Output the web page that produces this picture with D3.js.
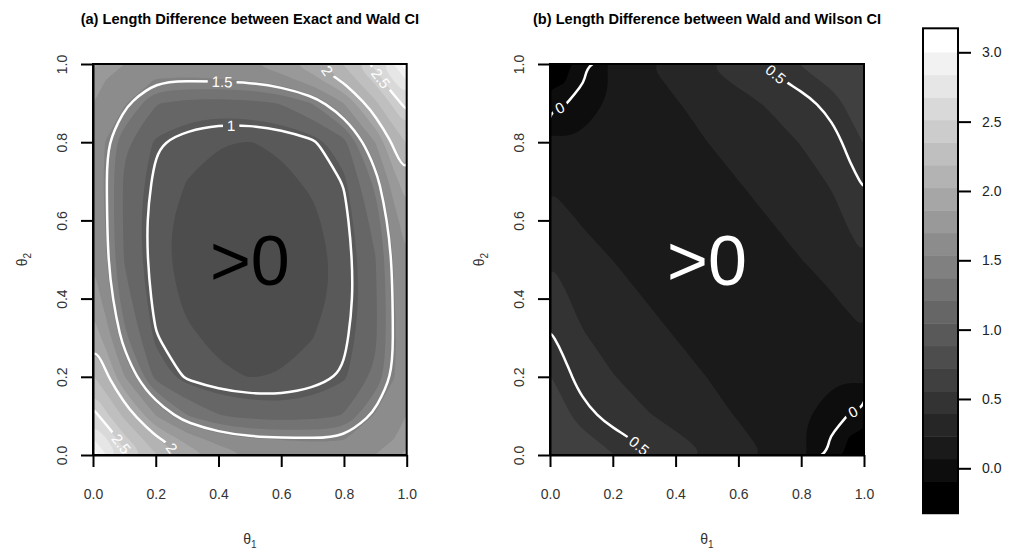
<!DOCTYPE html>
<html>
<head>
<meta charset="utf-8">
<script src="https://cdn.jsdelivr.net/npm/d3@7"></script>
<style>
body { margin: 0; background: #fff; }
text { font-family: "Liberation Sans", Arial, sans-serif; }
</style>
</head>
<body>
<svg width="1012" height="552"></svg>
<script>
// theta positions of the grid samples (same for theta1 and theta2)
const thetaGrid = [0, 0.04, 0.1, 0.2, 0.3, 0.4, 0.5, 0.6, 0.7, 0.8, 0.9, 0.96, 1];

// (a) exact - wald, one row per theta2 (0 -> 1), columns theta1 (0 -> 1)
const exactWald = [
  [3.17, 2.85, 2.58, 2.2, 1.96, 1.8, 1.69, 1.63, 1.6, 1.62, 1.7, 1.8, 1.92],
  [2.85, 2.7, 2.4, 2.05, 1.8, 1.63, 1.55, 1.53, 1.52, 1.53, 1.62, 1.7, 1.8],
  [2.58, 2.4, 2.15, 1.7, 1.38, 1.22, 1.16, 1.14, 1.15, 1.22, 1.56, 1.62, 1.7],
  [2.2, 2.05, 1.7, 1.15, 0.97, 0.9, 0.88, 0.89, 0.94, 1.02, 1.25, 1.53, 1.62],
  [1.96, 1.8, 1.42, 1.01, 0.9, 0.86, 0.83, 0.84, 0.88, 0.97, 1.18, 1.52, 1.6],
  [1.8, 1.63, 1.28, 0.95, 0.86, 0.8, 0.78, 0.79, 0.84, 0.93, 1.18, 1.53, 1.63],
  [1.69, 1.55, 1.2, 0.93, 0.83, 0.78, 0.77, 0.78, 0.83, 0.93, 1.2, 1.55, 1.69],
  [1.63, 1.53, 1.18, 0.93, 0.84, 0.79, 0.78, 0.8, 0.86, 0.95, 1.28, 1.63, 1.8],
  [1.6, 1.52, 1.18, 0.97, 0.88, 0.84, 0.83, 0.86, 0.9, 1.01, 1.42, 1.8, 1.96],
  [1.62, 1.53, 1.25, 1.02, 0.94, 0.89, 0.88, 0.9, 0.97, 1.15, 1.7, 2.05, 2.2],
  [1.7, 1.62, 1.56, 1.22, 1.15, 1.14, 1.16, 1.22, 1.38, 1.7, 2.15, 2.4, 2.58],
  [1.8, 1.7, 1.62, 1.53, 1.52, 1.53, 1.55, 1.63, 1.8, 2.05, 2.4, 2.7, 2.85],
  [1.92, 1.8, 1.7, 1.62, 1.6, 1.63, 1.69, 1.8, 1.96, 2.2, 2.58, 2.85, 3.17]
];

// (b) wald - wilson, same layout
const waldWilson = [
  [0.66, 0.64, 0.61, 0.56, 0.51, 0.45, 0.39, 0.31, 0.21, 0.09, -0.02, -0.15, -0.32],
  [0.64, 0.62, 0.58, 0.53, 0.48, 0.42, 0.35, 0.27, 0.18, 0.08, -0.01, -0.12, -0.15],
  [0.61, 0.58, 0.53, 0.47, 0.41, 0.35, 0.29, 0.22, 0.15, 0.08, 0.03, -0.01, -0.02],
  [0.56, 0.53, 0.47, 0.4, 0.34, 0.28, 0.23, 0.18, 0.13, 0.1, 0.08, 0.08, 0.09],
  [0.51, 0.48, 0.41, 0.34, 0.28, 0.23, 0.19, 0.16, 0.13, 0.13, 0.15, 0.18, 0.21],
  [0.45, 0.42, 0.35, 0.28, 0.23, 0.19, 0.165, 0.145, 0.16, 0.18, 0.22, 0.27, 0.31],
  [0.39, 0.35, 0.29, 0.23, 0.19, 0.165, 0.15, 0.165, 0.19, 0.23, 0.29, 0.35, 0.39],
  [0.31, 0.27, 0.22, 0.18, 0.16, 0.145, 0.165, 0.19, 0.23, 0.28, 0.35, 0.42, 0.45],
  [0.21, 0.18, 0.15, 0.13, 0.13, 0.16, 0.19, 0.23, 0.28, 0.34, 0.41, 0.48, 0.51],
  [0.09, 0.08, 0.08, 0.1, 0.13, 0.18, 0.23, 0.28, 0.34, 0.4, 0.47, 0.53, 0.56],
  [-0.02, -0.01, 0.03, 0.08, 0.15, 0.22, 0.29, 0.35, 0.41, 0.47, 0.53, 0.58, 0.61],
  [-0.15, -0.12, -0.01, 0.08, 0.18, 0.27, 0.35, 0.42, 0.48, 0.53, 0.58, 0.62, 0.64],
  [-0.32, -0.15, -0.02, 0.09, 0.21, 0.31, 0.39, 0.45, 0.51, 0.56, 0.61, 0.64, 0.66]
];

// filled contour levels and colour key
const levels = [-0.095, 0.068, 0.231, 0.394, 0.557, 0.72, 0.883, 1.046, 1.209, 1.372,
  1.535, 1.698, 1.861, 2.024, 2.187, 2.35, 2.513, 2.676, 2.839, 3.002];
const zRange = [-0.324, 3.173];
const keyTicks = [0, 0.5, 1, 1.5, 2, 2.5, 3];
const axisTicks = [0, 0.2, 0.4, 0.6, 0.8, 1];

// contour lines and where their labels sit: [level, theta1, theta2]
const linesA = [1, 1.5, 2, 2.5];
const labelsA = [[1.5, 0.41, 0.95], [1, 0.44, 0.84], [2, 0.75, 0.985], [2.5, 0.91, 0.96],
  [2.5, 0.077, 0.02], [2, 0.24, 0.01]];
const linesB = [0, 0.5];
const labelsB = [[0, 0.03, 0.89], [0.5, 0.72, 0.975], [0.5, 0.277, 0.018], [0, 0.97, 0.1]];

const svg = d3.select("svg");
const defs = svg.append("defs");
const gray = d3.scaleLinear().domain([0, levels.length]).range(["#000", "#fff"]);
const fmt = d3.format(".1f");

function drawPanel(p) {
  const x = d3.scaleLinear().domain([0, 1]).range(p.xRange);
  const y = d3.scaleLinear().domain([0, 1]).range([455, 64]);
  const n = thetaGrid.length;
  // grid coordinate (sample centre = i + 0.5) -> theta
  const gridScale = d3.scaleLinear().domain(thetaGrid.map((d, i) => i + 0.5)).range(thetaGrid);
  const project = c => [x(gridScale(c[0])), y(gridScale(c[1]))];
  const ring = d3.line().curve(d3.curveBasisClosed);
  const toPath = geo => geo.coordinates
    .map(poly => poly.map(r => ring(r.slice(0, -1).map(project))).join(""))
    .join("");
  const contours = d3.contours().size([n, n]);
  const flat = p.values.flat();

  const clipId = "clip-" + p.id;
  defs.append("clipPath").attr("id", clipId).append("rect")
    .attr("x", x(0)).attr("y", y(1))
    .attr("width", x(1) - x(0)).attr("height", y(0) - y(1));

  const g = svg.append("g");
  const fills = g.append("g").attr("clip-path", `url(#${clipId})`);
  fills.append("rect")
    .attr("x", x(0)).attr("y", y(1))
    .attr("width", x(1) - x(0)).attr("height", y(0) - y(1))
    .attr("fill", gray(0));
  fills.selectAll("path")
    .data(contours.thresholds(levels)(flat))
    .join("path")
    .attr("d", toPath)
    .attr("fill", (d, i) => gray(i + 1))
    .attr("fill-rule", "evenodd");

  // big ">0"
  g.append("text")
    .attr("x", x(0.5)).attr("y", y(0.5))
    .attr("dy", "0.36em")
    .attr("text-anchor", "middle")
    .attr("font-size", 70)
    .attr("fill", p.bigColor)
    .text(">0");

  // contour lines with gaps for labels
  const maskId = "mask-" + p.id;
  const mask = defs.append("mask").attr("id", maskId)
    .attr("maskUnits", "userSpaceOnUse")
    .attr("x", 0).attr("y", 0).attr("width", 1012).attr("height", 552);
  mask.append("rect").attr("width", 1012).attr("height", 552).attr("fill", "#fff");

  const lineSel = g.append("g")
    .attr("clip-path", `url(#${clipId})`)
    .append("g")
    .attr("mask", `url(#${maskId})`)
    .selectAll("path")
    .data(contours.thresholds(p.lines)(flat))
    .join("path")
    .attr("d", toPath)
    .attr("fill", "none")
    .attr("stroke", "#fff")
    .attr("stroke-width", 2.5);

  const labG = g.append("g").attr("clip-path", `url(#${clipId})`);
  p.labels.forEach(([lv, s, t]) => {
    const node = lineSel.filter(d => d.value === lv).node();
    const len = node.getTotalLength();
    const tx = x(s), ty = y(t);
    let best = 0, bd = Infinity;
    for (let l = 0; l < len; l += 1) {
      const pt = node.getPointAtLength(l);
      if (pt.x < x(0) || pt.x > x(1) || pt.y < y(1) || pt.y > y(0)) continue;
      const dd = (pt.x - tx) ** 2 + (pt.y - ty) ** 2;
      if (dd < bd) { bd = dd; best = l; }
    }
    const c = node.getPointAtLength(best);
    const a = node.getPointAtLength(Math.max(0, best - 5));
    const b = node.getPointAtLength(Math.min(len, best + 5));
    let ang = Math.atan2(b.y - a.y, b.x - a.x) * 180 / Math.PI;
    if (ang > 90) ang -= 180;
    if (ang < -90) ang += 180;
    const tr = `translate(${c.x},${c.y}) rotate(${ang})`;
    const txt = labG.append("text")
      .attr("transform", tr)
      .attr("dy", "0.36em")
      .attr("text-anchor", "middle")
      .attr("font-size", 15)
      .attr("fill", "#fff")
      .text(String(lv));
    const w = txt.node().getComputedTextLength() + 8;
    mask.append("rect")
      .attr("transform", tr)
      .attr("x", -w / 2).attr("y", -8)
      .attr("width", w).attr("height", 16)
      .attr("fill", "#000");
  });

  // box
  g.append("rect")
    .attr("x", x(0)).attr("y", y(1))
    .attr("width", x(1) - x(0)).attr("height", y(0) - y(1))
    .attr("fill", "none").attr("stroke", "#000").attr("stroke-width", 2);

  // axes
  const xAxis = g.append("g")
    .attr("transform", `translate(0,${y(0)})`)
    .call(d3.axisBottom(x).tickValues(axisTicks).tickFormat(fmt).tickSize(12).tickPadding(22).tickSizeOuter(0));
  const yAxis = g.append("g")
    .attr("transform", `translate(${x(0)},0)`)
    .call(d3.axisLeft(y).tickValues(axisTicks).tickFormat(fmt).tickSize(12).tickSizeOuter(0));
  yAxis.selectAll(".tick text")
    .attr("x", 0).attr("dy", "0.36em")
    .attr("text-anchor", "middle")
    .attr("transform", "translate(-31,0) rotate(-90)");
  [xAxis, yAxis].forEach(ax => {
    ax.select(".domain").attr("stroke-width", 2);
    ax.selectAll(".tick line").attr("stroke-width", 2);
    ax.selectAll(".tick text").attr("font-size", 14).attr("fill", "#333")
      .attr("font-family", "'Liberation Sans', Arial, sans-serif");
  });

  // axis titles
  const xt = g.append("text")
    .attr("x", x(0.5)).attr("y", 544)
    .attr("text-anchor", "middle").attr("font-size", 14).attr("fill", "#333");
  xt.append("tspan").text("θ");
  xt.append("tspan").attr("font-size", 10).attr("dy", 4).text("1");
  const yt = g.append("text")
    .attr("transform", `translate(${x(0) - 66},${y(0.5)}) rotate(-90)`)
    .attr("text-anchor", "middle").attr("font-size", 14).attr("fill", "#333");
  yt.append("tspan").text("θ");
  yt.append("tspan").attr("font-size", 10).attr("dy", 4).text("2");

  // title
  g.append("text")
    .attr("x", x(0.5)).attr("y", 24)
    .attr("text-anchor", "middle")
    .attr("font-size", 14.6).attr("font-weight", "bold")
    .text(p.title);
}

drawPanel({
  id: "a", xRange: [93, 406.7], values: exactWald, lines: linesA, labels: labelsA,
  bigColor: "#000", title: "(a) Length Difference between Exact and Wald CI"
});
drawPanel({
  id: "b", xRange: [550, 864], values: waldWilson, lines: linesB, labels: labelsB,
  bigColor: "#fff", title: "(b) Length Difference between Wald and Wilson CI"
});

// colour key
const zScale = d3.scaleLinear().domain([0, 3]).range([468.3, 52.3]);
const key = svg.append("g");
const bounds = [zRange[0], ...levels, zRange[1]];
key.selectAll("rect.band")
  .data(d3.pairs(bounds))
  .join("rect")
  .attr("class", "band")
  .attr("x", 923).attr("width", 35)
  .attr("y", d => zScale(d[1]))
  .attr("height", d => zScale(d[0]) - zScale(d[1]) + 0.5)
  .attr("fill", (d, i) => gray(i));
key.append("rect")
  .attr("x", 923).attr("y", zScale(zRange[1]))
  .attr("width", 35).attr("height", zScale(zRange[0]) - zScale(zRange[1]))
  .attr("fill", "none").attr("stroke", "#000").attr("stroke-width", 2);
const keyAxis = key.append("g")
  .attr("transform", "translate(958,0)")
  .call(d3.axisRight(zScale).tickValues(keyTicks).tickFormat(fmt).tickSize(13).tickPadding(11));
keyAxis.select(".domain").remove();
keyAxis.selectAll(".tick line").attr("stroke-width", 2);
keyAxis.selectAll(".tick text").attr("font-size", 14).attr("fill", "#222")
  .attr("font-family", "'Liberation Sans', Arial, sans-serif");
</script>
</body>
</html>
